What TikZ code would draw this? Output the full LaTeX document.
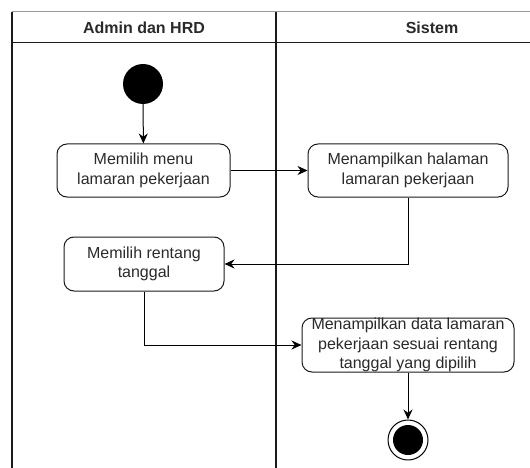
\documentclass[tikz,border=0pt]{standalone}
\usepackage{fontspec}
\setmainfont{Liberation Sans}
\usetikzlibrary{arrows.meta}
\definecolor{txt}{HTML}{2A2A2A}
\definecolor{lane}{HTML}{1A1A1A}
\definecolor{lanetop}{HTML}{9A9A9A}
\begin{document}
\begin{tikzpicture}[x=1pt,y=-1pt,
  actbox/.style={draw=lane,line width=1pt,rounded corners=10pt,fill=white,
    align=center,inner sep=0pt,text=txt,font=\fontsize{16}{19.5}\selectfont},
  flow/.style={draw=black,line width=1pt,-{Stealth[length=10pt,width=9pt]}},
  lanetitle/.style={font=\bfseries\fontsize{16}{19.5}\selectfont,text=txt,inner sep=0pt}]
\useasboundingbox (0,0) rectangle (530,468);
% swimlanes
\draw[lanetop,line width=1pt] (12,12) -- (530,12);
\draw[lane,line width=1.2pt] (12,42.5) -- (530,42.5);
\draw[lane,line width=1.2pt] (12,12) -- (12,468);
\draw[lane,line width=1.2pt] (276,12) -- (276,468);
\node[lanetitle] (lane1) at (144,27.5) {Admin dan HRD};
\node[lanetitle] (lane2) at (432,27.5) {Sistem};
% nodes
\node[circle,fill=black,minimum size=40pt,inner sep=0pt] (start) at (143,84) {};
\node[actbox,minimum width=173pt,minimum height=53pt] (a1) at (143.5,170.5) {Memilih menu\\lamaran pekerjaan};
\node[actbox,minimum width=200pt,minimum height=53pt] (a2) at (408,170.5) {Menampilkan halaman\\lamaran pekerjaan};
\node[actbox,minimum width=160pt,minimum height=54pt] (a3) at (144,264) {Memilih rentang\\tanggal};
\node[actbox,minimum width=212pt,minimum height=54pt] (a4) at (408,345) {Menampilkan data lamaran\\pekerjaan sesuai rentang\\tanggal yang dipilih};
\node[circle,draw=black,line width=1pt,fill=white,minimum size=40pt,inner sep=0pt] (fin) at (408,440) {};
\node[circle,fill=black,minimum size=30pt,inner sep=0pt] (finin) at (fin.center) {};
% connectors
\draw[flow] (start) -- (a1);
\draw[flow] (a1) -- (a2);
\draw[flow] (a2.south) |- (a3.east);
\draw[flow] (a3.south) |- (a4.west);
\draw[flow] (a4) -- (fin);
\end{tikzpicture}
\end{document}
